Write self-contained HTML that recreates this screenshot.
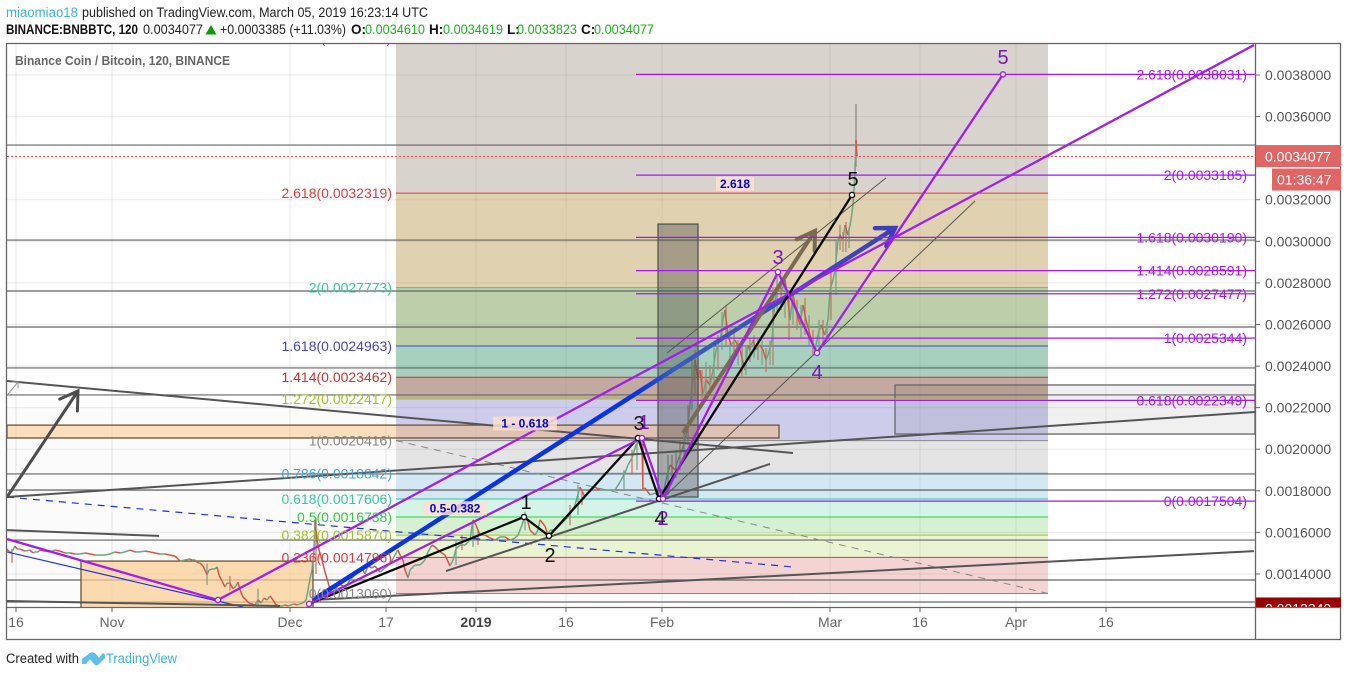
<!DOCTYPE html>
<html>
<head>
<meta charset="utf-8">
<title>BNBBTC chart</title>
<style>
html,body{margin:0;padding:0;background:#fff;width:1348px;height:676px;overflow:hidden}
svg{display:block}
text{font-family:"Liberation Sans",sans-serif}
</style>
</head>
<body>
<svg id="chart" width="1348" height="676" viewBox="0 0 1348 676" xmlns="http://www.w3.org/2000/svg">
  <defs>
    <clipPath id="pane"><rect x="7" y="44" width="1248" height="563"/></clipPath>
    <clipPath id="axisclip"><rect x="1256" y="44" width="85" height="563"/></clipPath>
    <linearGradient id="blueGrad" x1="0" y1="0" x2="1" y2="0">
      <stop offset="0" stop-color="#0a32e6"/>
      <stop offset="0.56" stop-color="#0a32e6"/>
      <stop offset="0.62" stop-color="#3a5cc0"/>
      <stop offset="1" stop-color="#3f3fb5"/>
    </linearGradient>
  </defs>
  <g id="header" font-size="13.5">
    <text x="6" y="17" fill="#3bb3e4" textLength="72" lengthAdjust="spacingAndGlyphs">miaomiao18</text>
    <text x="82" y="17" fill="#222" textLength="346" lengthAdjust="spacingAndGlyphs">published on TradingView.com, March 05, 2019 16:23:14 UTC</text>
    <text x="6" y="34" fill="#111" font-weight="bold" textLength="132" lengthAdjust="spacingAndGlyphs">BINANCE:BNBBTC, 120</text>
    <text x="143" y="34" fill="#222" textLength="60" lengthAdjust="spacingAndGlyphs">0.0034077</text>
    <polygon points="211,25 216.500,34.500 205.500,34.500" fill="#0a9a0a"/>
    <text x="220" y="34" fill="#222" textLength="126" lengthAdjust="spacingAndGlyphs">+0.0003385 (+11.03%)</text>
    <text x="351" y="34" fill="#111" font-weight="bold">O:</text>
    <text x="365" y="34" fill="#19b319" textLength="60" lengthAdjust="spacingAndGlyphs">0.0034610</text>
    <text x="429" y="34" fill="#111" font-weight="bold">H:</text>
    <text x="443" y="34" fill="#19b319" textLength="60" lengthAdjust="spacingAndGlyphs">0.0034619</text>
    <text x="507" y="34" fill="#111" font-weight="bold">L:</text>
    <text x="517" y="34" fill="#19b319" textLength="60" lengthAdjust="spacingAndGlyphs">0.0033823</text>
    <text x="581" y="34" fill="#111" font-weight="bold">C:</text>
    <text x="594" y="34" fill="#19b319" textLength="60" lengthAdjust="spacingAndGlyphs">0.0034077</text>
  </g>
  <g id="plot" clip-path="url(#pane)"></g>
  <g id="axes"></g>
  <g id="footer">
    <text x="6" y="663" font-size="13.5" fill="#222" textLength="73" lengthAdjust="spacingAndGlyphs">Created with</text>
    <path d="M82 659 L90 653 Q93 651 96 654 L99 658 L102 654 Q104 652 105 655 L105 658 L98 665 Q96 666 94 664 L90 659 L86 664 L82 664 Z" fill="#5cc0ea"/>
    <text x="106" y="663" font-size="13.5" fill="#3bb3e4" textLength="71" lengthAdjust="spacingAndGlyphs">TradingView</text>
  </g>
</svg>
<script>
// Time is in hours since 16 Oct 2018; prices are in millionths of a BTC.
const candleHours = [-36,-24,-12,-4,4,16,36,56,68,76,88,96,116,136,156,176,196,216,236,256,276,296,316,336,356,376,396,416,436,456,476,496,516,536,556,576,596,616,636,648,656,676,696,704,716,728,736,748,756,764,772,784,796,804,812,824,836,844,856,868,880,888,896,908,920,932,944,956,968,980,992,1004,1016,1028,1040,1052,1064,1076,1088,1100,1112,1124,1136,1148,1160,1168,1176,1184,1192,1196,1204,1212,1224,1236,1248,1256,1268,1276,1288,1304,1316,1336,1356,1368,1384,1396,1408,1424,1436,1456,1476,1496,1516,1528,1536,1548,1556,1568,1576,1596,1616,1636,1648,1664,1676,1696,1716,1736,1748,1760,1776,1796,1816,1828,1840,1856,1876,1896,1916,1936,1956,1976,1996,2008,2024,2036,2048,2056,2076,2088,2096,2116,2128,2136,2156,2176,2196,2216,2236,2256,2276,2296,2316,2336,2356,2376,2396,2416,2436,2448,2464,2480,2496,2504,2508,2516,2536,2556,2576,2588,2600,2616,2636,2648,2664,2676,2688,2696,2708,2716,2728,2736,2748,2760,2776,2788,2800,2816,2828,2836,2848,2860,2876,2896,2916,2928,2936,2948,2960,2976,2988,3000,3008,3024,3036,3048,3064,3076,3088,3096,3108,3120,3136,3148,3160,3176,3196,3208,3220,3236,3248,3256,3268,3276,3288,3296,3308,3316,3328,3340,3348,3352,3356,3360,3364];
const candleCloses = [1520,1501,1515,1534,1520,1520,1510,1515,1501,1506,1506,1515,1510,1506,1515,1510,1501,1501,1496,1496,1501,1496,1491,1491,1491,1496,1506,1501,1506,1515,1506,1506,1510,1506,1501,1496,1496,1491,1486,1472,1462,1467,1472,1467,1467,1453,1453,1438,1419,1395,1419,1424,1424,1434,1395,1366,1337,1356,1356,1328,1342,1361,1323,1289,1275,1260,1256,1251,1275,1260,1284,1275,1294,1275,1251,1246,1246,1251,1246,1251,1256,1251,1256,1260,1275,1323,1376,1419,1515,1660,1563,1515,1467,1409,1361,1323,1299,1323,1347,1347,1332,1371,1395,1419,1429,1400,1438,1429,1438,1409,1429,1448,1491,1515,1491,1467,1419,1381,1419,1443,1443,1467,1506,1539,1530,1506,1491,1438,1467,1520,1539,1539,1563,1660,1635,1587,1587,1573,1563,1578,1578,1563,1573,1587,1635,1684,1650,1611,1587,1611,1660,1630,1587,1611,1611,1635,1660,1684,1732,1818,1770,1804,1818,1804,1804,1804,1804,1842,1886,1924,1958,2020,2044,2020,1804,1814,1780,1789,1770,1780,1852,1924,1900,1948,1996,2044,2116,2213,2333,2429,2333,2381,2261,2333,2309,2381,2477,2525,2622,2670,2549,2501,2525,2477,2381,2501,2477,2525,2477,2501,2477,2429,2453,2525,2718,2790,2766,2814,2718,2622,2742,2670,2598,2694,2622,2549,2477,2549,2598,2549,2622,2766,2814,2862,3006,3030,3006,3078,3030,3102,3175,3247,3343,3487,3408];
const wickHours = [-16,764,856,968,1200,1760,1784,1828,1848,2036,2216,2248,2264,2432,2464,2484,2508,2608,2624,2640,2656,2672,2688,2704,2716,2728,2744,2760,2776,2792,2808,2824,2840,2856,2872,2888,2904,2920,2936,2952,2968,2984,3000,3016,3028,3044,3060,3076,3092,3108,3124,3140,3156,3172,3188,3212,3228,3244,3260,3280,3296,3308,3320,3332,3360];
const wickHighs = [1520,1450,1390,1330,1669,1563,1587,1660,1611,1700,1732,1828,1804,1900,1996,2044,2050,1972,1972,1996,2044,2092,2213,2429,2477,2429,2381,2420,2405,2501,2549,2660,2694,2598,2564,2525,2501,2501,2535,2549,2535,2525,2487,2525,2775,2838,2814,2824,2742,2766,2718,2694,2727,2646,2574,2622,2622,2612,2862,3006,3078,3045,3093,3064,3660];
const wickLows = [1453,1347,1320,1240,1400,1443,1515,1530,1539,1610,1635,1684,1732,1804,1876,1900,1800,1780,1852,1861,1900,1948,2020,2189,2261,2237,2213,2247,2261,2309,2381,2477,2501,2429,2453,2405,2343,2357,2420,2439,2429,2405,2372,2405,2404,2646,2670,2631,2525,2598,2574,2535,2549,2501,2453,2477,2501,2516,2622,2742,2958,2949,2949,2968,3358];
const priceTicks = [3800,3600,3400,3200,3000,2800,2600,2400,2200,2000,1800,1600,1400];
const timeTickHours = [0,384,1096,1480,1840,2200,2584,3256,3616,4000,4360];
const timeTickLabels = ["16","Nov","Dec","17","2019","16","Feb","Mar","16","Apr","16"];
const horizontalLevels = [3463,3006,2761,2588,2391,2261,1881,1804,1563,1371,1265];
const leftFibRatios = ["2.618","2","1.618","1.414","1.272","1","0.786","0.618","0.5","0.382","0.236","0"];
const leftFibPrices = [3231.9,2777.3,2496.3,2346.2,2241.7,2041.6,1884.2,1760.6,1673.8,1587.0,1479.6,1306.0];
const leftFibColors = ["#e0383c","#35c9a0","#4444cc","#d32f2f","#a2c523","#888888","#4aa3d8","#35c9a0","#2ecc40","#a2c523","#e0383c","#888888"];
const leftFibFills = ["#e0d2b0","#bccfaa","#a8d0be","#c2aaa0","#cdcdeb","#e4e4e4","#d4e8f4","#d4f4e8","#d6f0d2","#e8f4d2","#f3d4d2"];
const leftFibStartHour = 1520;
const leftFibEndHour = 4128;
const rightFibRatios = ["2.618","2","1.618","1.414","1.272","1","0.618","0"];
const rightFibPrices = [3803.1,3318.5,3019.0,2859.1,2747.7,2534.4,2234.9,1750.4];
const rightFibStartHour = 2480;
const rightFibEndHour = 4960;
const purpleRay = [[-36,1568],[808,1275],[4952,3944]];
const purpleWave = [[1172,1256],[2504,2054],[2588,1761],[3048,2852],[3204,2463],[3948,3803]];
const blackWave = [[1180,1260],[2032,1674],[2132,1583],[2488,2054],[2572,1761],[3344,3223]];
const purpleWaveLabels = [["1",2512,2097],["2",2588,1635],["3",3048,2891],["4",3204,2338],["5",3948,3853]];
const blackWaveLabels = [["1",2040,1712],["2",2136,1458],["3",2492,2092],["4",2576,1635],["5",3348,3266]];
const grayTrends = [
  [[-36,2328],[3108,1982]],
  [[-36,1770],[4956,2179]],
  [[-36,1611],[572,1583]],
  [[-36,1270],[1056,1246]],
  [[1184,1275],[4952,1510]],
  [[1720,1414],[3016,1929]]
];
const thinChannels = [[[2604,2463],[3480,3305]],[[2588,1765],[3836,3194]]];
const blueDashed = [[-36,1770],[3104,1434]];
const thinBlue = [[-36,1506],[908,1241]];
const grayDashed = [[1520,2041.6],[4128,1306]];
const blueArrow = [[1188,1275],[3516,3064]];
const grayArrow = [[-36,1770],[248,2280]];
const brownArrow = [[2668,2078],[3196,3050]];
const orangeBoxA = [[260,1462],[1188,1230]];
const orangeBoxB = [[-36,2116],[3052,2054]];
const grayBox = [[2568,3083],[2728,1770]];
const rightBox = [[3516,2309],[4956,2073]];
const faintBox = [[-36,2198],[3116,1265]];
const noteLabels = [["2.618",2876,3276],["1 - 0.618",2036,2124],["0.5-0.382",1756,1716]];
const lastPrice = 3407.7;
const lowLabelPrice = 1234.0;

const xOf = h => 16 + h / 4;
const yOf = p => 75 + (3800 - p) / 4.81;
const fmt = p => (p / 1e6).toFixed(7);
const NS = "http://www.w3.org/2000/svg";
const plot = document.getElementById("plot");
const axes = document.getElementById("axes");

function add(parent, tag, attrs, name, content) {
  const el = document.createElementNS(NS, tag);
  for (const k in attrs) el.setAttribute(k, attrs[k]);
  
  
  if (content !== undefined) el.textContent = content;
  parent.appendChild(el);
  return el;
}
function seg(a, b, stroke, width, name, extra) {
  return add(plot, "line", Object.assign({x1:xOf(a[0]),y1:yOf(a[1]),x2:xOf(b[0]),y2:yOf(b[1]),stroke:stroke,"stroke-width":width}, extra||{}), name);
}
function box(r, fill, stroke, name) {
  const x = xOf(r[0][0]), y = yOf(r[0][1]);
  return add(plot, "rect", {x:x,y:y,width:xOf(r[1][0])-x,height:yOf(r[1][1])-y,fill:fill,stroke:stroke,"stroke-width":1.3}, name);
}
function poly(points, stroke, width, name) {
  return add(plot, "polyline", {points:points.map(p=>xOf(p[0])+","+yOf(p[1])).join(" "),fill:"none",stroke:stroke,"stroke-width":width,"stroke-linejoin":"round"}, name);
}
function arrow(line, stroke, width, name, headColor) {
  const x1=xOf(line[0][0]), y1=yOf(line[0][1]), x2=xOf(line[1][0]), y2=yOf(line[1][1]);
  const ang = Math.atan2(y1-y2, x1-x2), len = 20, spread = 0.56;
  const a = add(plot,"polyline",{points:x1+","+y1+" "+x2+","+(y2+0.001),fill:"none",stroke:stroke,"stroke-width":width},name);
  add(plot,"polyline",{points:(x2+len*Math.cos(ang+spread))+","+(y2+len*Math.sin(ang+spread))+" "+x2+","+y2+" "+(x2+len*Math.cos(ang-spread))+","+(y2+len*Math.sin(ang-spread)),fill:"none",stroke:headColor||stroke,"stroke-width":width,"stroke-linecap":"round"},name+"-head");
  return a;
}
function node(p, stroke, name) {
  add(plot,"circle",{cx:xOf(p[0]),cy:yOf(p[1]),r:2.6,fill:"#fff",stroke:stroke,"stroke-width":1.4},name);
}

add(plot,"rect",{x:0,y:0,width:1348,height:676,fill:"#fff"},"plot-background");
box(faintBox,"#fbfbfb","none","faint-range-box");

// fib retracement bands
const fx1 = xOf(leftFibStartHour), fx2 = xOf(leftFibEndHour);
add(plot,"rect",{x:fx1,y:0,width:fx2-fx1,height:yOf(leftFibPrices[0]),fill:"#d9d3ce"},"fib-band-top");
leftFibFills.forEach((c,i)=>{
  add(plot,"rect",{x:fx1,y:yOf(leftFibPrices[i]),width:fx2-fx1,height:yOf(leftFibPrices[i+1])-yOf(leftFibPrices[i]),fill:c},"fib-band");
});
box(rightBox,"rgba(0,0,0,0.06)","#666","right-range-box");

// grid
priceTicks.forEach(p=>{
  add(plot,"line",{x1:7,x2:1255,y1:yOf(p),y2:yOf(p),stroke:"rgba(90,90,90,0.13)","stroke-width":1},"horizontal-gridline");
});
timeTickHours.forEach(h=>{
  add(plot,"line",{x1:xOf(h),x2:xOf(h),y1:44,y2:607,stroke:"rgba(90,90,90,0.13)","stroke-width":1},"vertical-gridline");
});

// horizontal levels
horizontalLevels.forEach(p=>{
  add(plot,"line",{x1:7,x2:1255,y1:yOf(p),y2:yOf(p),stroke:"#666","stroke-width":1.2},"horizontal-level");
});
add(plot,"line",{x1:7,x2:1255,y1:yOf(lastPrice),y2:yOf(lastPrice),stroke:"#e04848","stroke-width":1,"stroke-dasharray":"2 2"},"last-price-line");

box(orangeBoxA,"rgba(252,205,145,0.72)","#6b5335","orange-range-box-lower");
box(orangeBoxB,"rgba(252,175,90,0.38)","#6b5335","orange-range-box-upper");

// fib level lines
leftFibPrices.forEach((p,i)=>{
  add(plot,"line",{x1:fx1,x2:fx2,y1:yOf(p),y2:yOf(p),stroke:leftFibColors[i],"stroke-width":1},"left-fib-level");
});

// candles
wickHours.forEach((h,i)=>{
  add(plot,"line",{x1:xOf(h),x2:xOf(h),y1:yOf(wickHighs[i]),y2:yOf(wickLows[i]),stroke:h===3360?"#8a8078":(i%2?"#6ba583":"#c9705c"),"stroke-width":1.2},"candle-wick");
});
candleHours.forEach((h,i)=>{
  if(i===0) return;
  const up = candleCloses[i] >= candleCloses[i-1];
  add(plot,"line",{x1:xOf(candleHours[i-1]),y1:yOf(candleCloses[i-1]),x2:xOf(h),y2:yOf(candleCloses[i]),stroke:up?"#6ba583":"#d75442","stroke-width":1.5},"candle");
});

box(grayBox,"rgba(70,70,70,0.38)","#555","gray-time-box");

// trend lines
seg(blueDashed[0],blueDashed[1],"#1f2fe8",1.2,"blue-dashed-trendline",{"stroke-dasharray":"7 6"});
seg(thinBlue[0],thinBlue[1],"#1f2fe8",1.2,"blue-thin-trendline");
seg(grayDashed[0],grayDashed[1],"#888",1,"fib-trend-dashed",{"stroke-dasharray":"7 6"});
grayTrends.forEach(t=>{ seg(t[0],t[1],"#555",2,"gray-trendline"); });
thinChannels.forEach(t=>{ seg(t[0],t[1],"#555",1,"thin-channel-line"); });
arrow(blueArrow,"url(#blueGrad)",4.5,"blue-arrow","#3f3fb5");
arrow(grayArrow,"#4d4d4d",3,"gray-arrow");
arrow(brownArrow,"#7a6a50",4,"brown-arrow");
add(plot,"path",{d:"M8 394 L18 382 M12 382 L18 382 L18 388",fill:"none",stroke:"#999","stroke-width":1},"small-arrow-icon");

// right fib
rightFibPrices.forEach((p,i)=>{
  add(plot,"line",{x1:xOf(rightFibStartHour),x2:xOf(rightFibEndHour),y1:yOf(p),y2:yOf(p),stroke:"#a714ff","stroke-width":1.2},"right-fib-level");
  add(plot,"text",{x:1247,y:yOf(p)+5,"text-anchor":"end","font-size":14,fill:"#a714ff"},"right-fib-label",rightFibRatios[i]+"("+fmt(p)+")");
});

// wave structures
poly(purpleRay,"#a01fee",2.3,"purple-channel-ray");
poly(blackWave,"#0b0b0b",2.3,"black-elliott-wave");
poly(purpleWave,"#a01fee",2.3,"purple-elliott-wave");
blackWave.slice(1).forEach(p=>node(p,"#111","black-wave-point"));
purpleWave.forEach(p=>node(p,"#a01fee","purple-wave-point"));
node(purpleRay[1],"#a01fee","purple-ray-point");
blackWaveLabels.forEach(l=>{
  add(plot,"text",{x:xOf(l[1]),y:yOf(l[2]),"text-anchor":"middle","font-size":20,fill:"#111"},"black-wave-label",l[0]);
});
purpleWaveLabels.forEach(l=>{
  add(plot,"text",{x:xOf(l[1]),y:yOf(l[2]),"text-anchor":"middle","font-size":20,fill:"#7a16b8"},"purple-wave-label",l[0]);
});

// left fib labels
leftFibPrices.forEach((p,i)=>{
  add(plot,"text",{x:392,y:yOf(p)+5,"text-anchor":"end","font-size":14,fill:leftFibColors[i]},"left-fib-label",leftFibRatios[i]+"("+fmt(p)+")");
});
add(plot,"text",{x:391,y:43.5,"text-anchor":"end","font-size":13,fill:"#a714ff"},"clipped-fib-label","(0.0040000)");

// note labels
noteLabels.forEach(l=>{
  const cx=xOf(l[1]), cy=yOf(l[2]), w=l[0].length*6.4+6;
  add(plot,"rect",{x:cx-w/2,y:cy-7,width:w,height:14,fill:"rgba(250,225,205,0.85)"},"ratio-note-background");
  add(plot,"text",{x:cx,y:cy+4,"text-anchor":"middle","font-size":12,"font-weight":"bold",fill:"#0000ee"},"ratio-note",l[0]);
});

add(plot,"text",{x:15,y:65,"font-size":12.5,"font-weight":"bold",fill:"#666",textLength:215,lengthAdjust:"spacingAndGlyphs"},"chart-title","Binance Coin / Bitcoin, 120, BINANCE");

// frame and axes
add(axes,"rect",{x:6.5,y:43.5,width:1334,height:596,fill:"none",stroke:"#666","stroke-width":1.3},"chart-frame");
add(axes,"line",{x1:6,x2:1341,y1:607.5,y2:607.5,stroke:"#666","stroke-width":1.3},"time-axis-line");
add(axes,"line",{x1:1255.5,x2:1255.5,y1:43,y2:640,stroke:"#666","stroke-width":1.3},"price-axis-line");
priceTicks.forEach(p=>{
  add(axes,"line",{x1:1255,x2:1260,y1:yOf(p),y2:yOf(p),stroke:"#666","stroke-width":1},"price-tick");
  add(axes,"text",{x:1265,y:yOf(p)+5,"font-size":14,fill:"#555"},"price-tick-label",fmt(p));
});
timeTickHours.forEach((h,i)=>{
  add(axes,"line",{x1:xOf(h),x2:xOf(h),y1:607,y2:612,stroke:"#666","stroke-width":1},"time-tick");
  const bold = timeTickLabels[i]==="2019";
  add(axes,"text",{x:xOf(h),y:627,"text-anchor":"middle","font-size":14,fill:bold?"#444":"#666","font-weight":bold?"bold":"normal"},"time-tick-label",timeTickLabels[i]);
});
const yl = yOf(lastPrice);
add(axes,"rect",{x:1256,y:yl-11.5,width:85,height:22,fill:"#e06666"},"last-price-tag");
add(axes,"text",{x:1265,y:yl+5,"font-size":14,fill:"#fff"},"last-price-tag-text",fmt(lastPrice));
add(axes,"rect",{x:1272,y:yl+12,width:69,height:22,fill:"#e06666"},"countdown-tag");
add(axes,"text",{x:1277,y:yl+28,"font-size":14,fill:"#fff"},"countdown-text","01:36:47");
const lowGroup = add(axes,"g",{"clip-path":"url(#axisclip)"},"low-price-tag-group");
add(lowGroup,"rect",{x:1256,y:yOf(lowLabelPrice)-11,width:85,height:22,fill:"#990000"},"low-price-tag");
add(lowGroup,"text",{x:1265,y:yOf(lowLabelPrice)+5,"font-size":14,fill:"#fff"},"low-price-tag-text",fmt(lowLabelPrice));
</script>
</body>
</html>
